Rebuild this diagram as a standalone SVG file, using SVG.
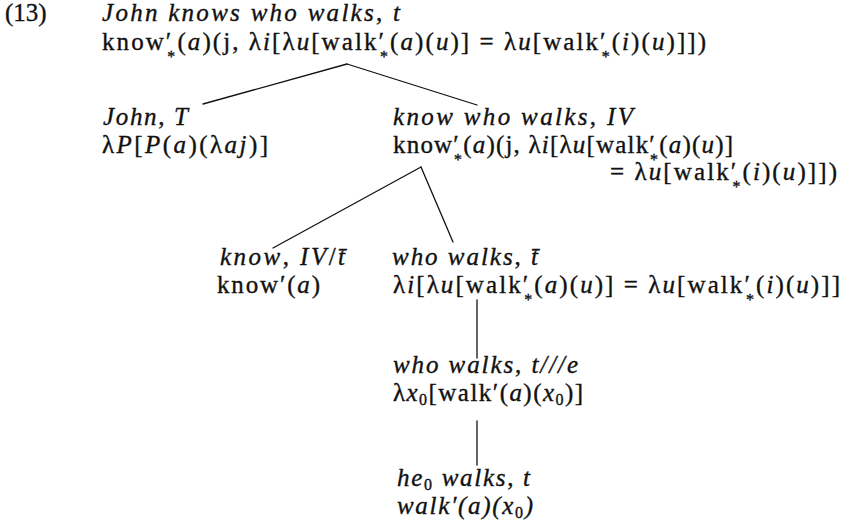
<svg xmlns="http://www.w3.org/2000/svg" width="846" height="531" viewBox="0 0 846 531">
  <style>
    .t { font-family: "Liberation Serif", "Times New Roman", serif; font-size: 25px; fill: #111; stroke: #111; stroke-width: 0.35; }
    .i { font-style: italic; }
    .ast { font-size: 16px; font-style: normal; }
    .sub { font-size: 16px; font-style: normal; }
    .edge { stroke: #111; stroke-width: 1.3; fill: none; stroke-linecap: round; }
  </style>
  <rect width="846" height="531" fill="#fff"/>

  <!-- example number -->
  <text id="label" class="t" x="5" y="21">(13)</text>

  <!-- tree edges -->
  <g id="connectors">
    <line class="edge" x1="347" y1="64" x2="203" y2="104"/>
    <line class="edge" x1="347" y1="64" x2="477" y2="105"/>
    <line class="edge" x1="421" y1="167" x2="273" y2="248"/>
    <line class="edge" x1="421" y1="167" x2="453" y2="242"/>
    <line class="edge" x1="477" y1="300" x2="477" y2="358"/>
    <line class="edge" x1="477" y1="421" x2="477" y2="465"/>
  </g>

  <!-- root: the whole sentence -->
  <g id="n-root">
    <text class="t" x="102" y="21" textLength="298" lengthAdjust="spacing"><tspan class="i">John knows who walks</tspan>, <tspan class="i">t</tspan></text>
    <text class="t" x="102" y="50" textLength="604" lengthAdjust="spacing">know′<tspan class="ast" dx="-6" dy="12">*</tspan><tspan dy="-12">(</tspan><tspan class="i">a</tspan>)(j, λ<tspan class="i">i</tspan>[λ<tspan class="i">u</tspan>[walk′<tspan class="ast" dx="-6" dy="12">*</tspan><tspan dy="-12">(</tspan><tspan class="i">a</tspan>)(<tspan class="i">u</tspan>)] = λ<tspan class="i">u</tspan>[walk′<tspan class="ast" dx="-6" dy="12">*</tspan><tspan dy="-12">(</tspan><tspan class="i">i</tspan>)(<tspan class="i">u</tspan>)]])</text>
  </g>

  <!-- subject term -->
  <g id="n-john">
    <text class="t" x="103" y="125" textLength="85" lengthAdjust="spacing"><tspan class="i">John</tspan>, <tspan class="i">T</tspan></text>
    <text class="t" x="102" y="153" textLength="166" lengthAdjust="spacing">λ<tspan class="i">P</tspan>[<tspan class="i">P</tspan>(<tspan class="i">a</tspan>)(λ<tspan class="i">aj</tspan>)]</text>
  </g>

  <!-- verb phrase -->
  <g id="n-vp">
    <text class="t" x="393" y="125" textLength="240" lengthAdjust="spacing"><tspan class="i">know who walks</tspan>, <tspan class="i">IV</tspan></text>
    <text class="t" x="393" y="153" textLength="340" lengthAdjust="spacing">know′<tspan class="ast" dx="-6" dy="12">*</tspan><tspan dy="-12">(</tspan><tspan class="i">a</tspan>)(j, λ<tspan class="i">i</tspan>[λ<tspan class="i">u</tspan>[walk′<tspan class="ast" dx="-6" dy="12">*</tspan><tspan dy="-12">(</tspan><tspan class="i">a</tspan>)(<tspan class="i">u</tspan>)]</text>
    <text class="t" x="610" y="180" textLength="227" lengthAdjust="spacing">= λ<tspan class="i">u</tspan>[walk′<tspan class="ast" dx="-6" dy="12">*</tspan><tspan dy="-12">(</tspan><tspan class="i">i</tspan>)(<tspan class="i">u</tspan>)]])</text>
  </g>

  <!-- verb -->
  <g id="n-know">
    <text class="t" x="220" y="265" textLength="125" lengthAdjust="spacing"><tspan class="i">know</tspan>, <tspan class="i">IV</tspan>/<tspan class="i">t̄</tspan></text>
    <text class="t" x="217" y="293" textLength="103" lengthAdjust="spacing">know′(<tspan class="i">a</tspan>)</text>
  </g>

  <!-- embedded question -->
  <g id="n-question">
    <text class="t" x="392" y="265" textLength="146" lengthAdjust="spacing"><tspan class="i">who walks</tspan>, <tspan class="i">t̄</tspan></text>
    <text class="t" x="393" y="293" textLength="447" lengthAdjust="spacing">λ<tspan class="i">i</tspan>[λ<tspan class="i">u</tspan>[walk′<tspan class="ast" dx="-6" dy="12">*</tspan><tspan dy="-12">(</tspan><tspan class="i">a</tspan>)(<tspan class="i">u</tspan>)] = λ<tspan class="i">u</tspan>[walk′<tspan class="ast" dx="-6" dy="12">*</tspan><tspan dy="-12">(</tspan><tspan class="i">i</tspan>)(<tspan class="i">u</tspan>)]]</text>
  </g>

  <!-- abstract -->
  <g id="n-abstract">
    <text class="t" x="393" y="373" textLength="185" lengthAdjust="spacing"><tspan class="i">who walks</tspan>, <tspan class="i">t///e</tspan></text>
    <text class="t" x="393" y="401" textLength="190" lengthAdjust="spacing">λ<tspan class="i">x</tspan><tspan class="sub" dy="4">0</tspan><tspan dy="-4">[walk′(</tspan><tspan class="i">a</tspan>)(<tspan class="i">x</tspan><tspan class="sub" dy="4">0</tspan><tspan dy="-4">)]</tspan></text>
  </g>

  <!-- open sentence -->
  <g id="n-open">
    <text class="t" x="397" y="486" textLength="133" lengthAdjust="spacing"><tspan class="i">he</tspan><tspan class="sub" dy="4">0</tspan><tspan class="i" dy="-4"> walks</tspan>, <tspan class="i">t</tspan></text>
    <text class="t i" x="397" y="514" textLength="136" lengthAdjust="spacing">walk′(a)(x<tspan class="sub" dy="4">0</tspan><tspan dy="-4">)</tspan></text>
  </g>
</svg>
